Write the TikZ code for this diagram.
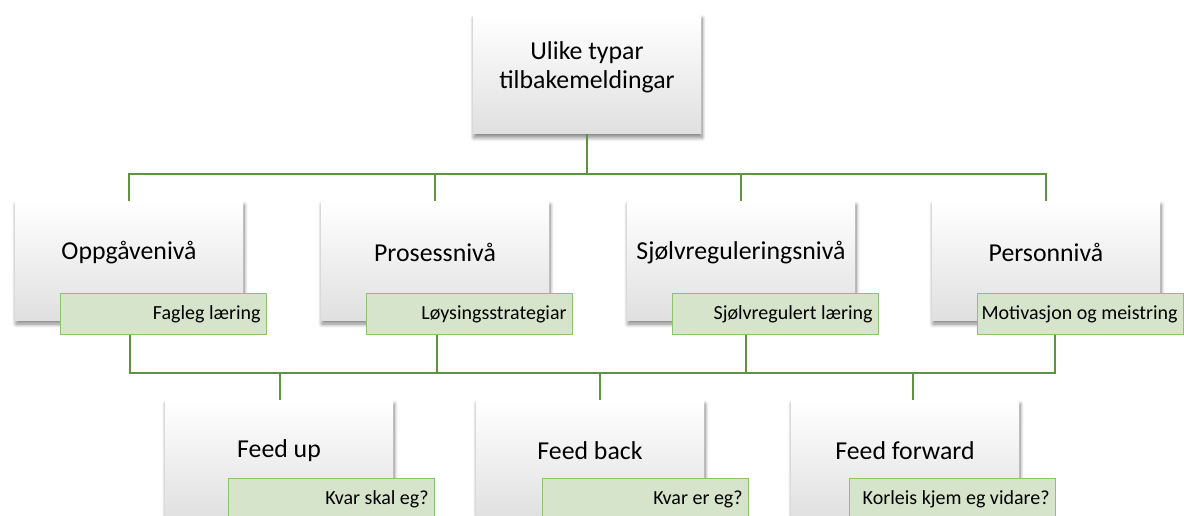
\documentclass[tikz,border=0pt]{standalone}
\usepackage{fontspec}
\setmainfont{Carlito}
\usetikzlibrary{shadows.blur,positioning}

\definecolor{linegreen}{HTML}{5E9341}
\definecolor{tagfill}{HTML}{D6E4CB}
\definecolor{tagdraw}{HTML}{8DC36B}
\definecolor{boxgrey}{HTML}{E0E0E0}

\tikzset{
  box/.style={minimum width=228pt, minimum height=119pt, inner sep=0pt,
    top color=white, middle color=white, bottom color=boxgrey,
    blur shadow={shadow xshift=1pt, shadow yshift=-4pt, shadow blur radius=4pt,
      shadow blur steps=8, shadow opacity=50}},
  boxtext/.style={font=\fontsize{25.8}{29}\selectfont, align=center, inner sep=0pt},
  tag/.style={draw=tagdraw, line width=1pt, fill=tagfill, anchor=north west,
    minimum width=206pt, minimum height=41pt, inner sep=0pt},
  tagtext/.style={anchor=east, inner sep=0pt, font=\fontsize{20}{24}\selectfont},
  conn/.style={draw=linegreen, line width=1.3pt},
}

\begin{document}
\begin{tikzpicture}[x=1pt,y=-1pt]
\useasboundingbox (0,0) rectangle (1184,515);
\clip (0,0) rectangle (1184,515);

% top box
\node[box] (top) at (587,74) {};
\node[boxtext] (toptxt) at ([yshift=7pt]top.center) {Ulike typar\\tilbakemeldingar};

% levels
\foreach \x/\lbl/\tg [count=\i] in {129/Oppgåvenivå/Fagleg læring,435/Prosessnivå/Løysingsstrategiar,741/Sjølvreguleringsnivå/Sjølvregulert læring,1046/Personnivå/Motivasjon og meistring}
{ \node[box] (lvl\i) at (\x,260.5) {};
  \node[boxtext] (lvltxt\i) at ([yshift=8pt]lvl\i.center) {\lbl};
  \node[tag] (lvltag\i) at ([xshift=45pt,yshift=27pt]lvl\i.south west) {};
  \node[tagtext] (lvltagtxt\i) at ([xshift=-6pt]lvltag\i.east) {\tg};
}

% feed boxes
\foreach \x/\dx/\lbl/\tg [count=\i] in {279/63/Feed up/Kvar skal eg?,590/66/Feed back/Kvar er eg?,905/58/Feed forward/Korleis kjem eg vidare?}
{ \node[box] (fb\i) at (\x,459.5) {};
  \node[boxtext] (fbtxt\i) at ([yshift=9pt]fb\i.center) {\lbl};
  \node[tag] (fbtag\i) at ([xshift=\dx pt,yshift=41pt]fb\i.south west) {};
  \node[tagtext] (fbtagtxt\i) at ([xshift=-6pt]fbtag\i.east) {\tg};
}

% upper connectors
\coordinate (busA) at (587,174);
\draw[conn] (top.south) -- (top.south |- busA);
\draw[conn] (lvl1.north) |- (busA) -| (lvl4.north);
\foreach \i in {2,3}{ \draw[conn] (lvl\i.north) -- (lvl\i.north |- busA); }

% lower connectors
\foreach \x [count=\i] in {130,437,746,1055}{ \coordinate (up\i) at (\x,373); }
\foreach \x [count=\i] in {280,600,913}{ \coordinate (dn\i) at (\x,373); }
\draw[conn] (lvltag1.south -| up1) -- (up1) -- (up4) -- (lvltag4.south -| up4);
\foreach \i in {2,3}{ \draw[conn] (lvltag\i.south -| up\i) -- (up\i); }
\foreach \i in {1,2,3}{ \draw[conn] (dn\i) -- (dn\i |- fb\i.north); }
\end{tikzpicture}
\end{document}
